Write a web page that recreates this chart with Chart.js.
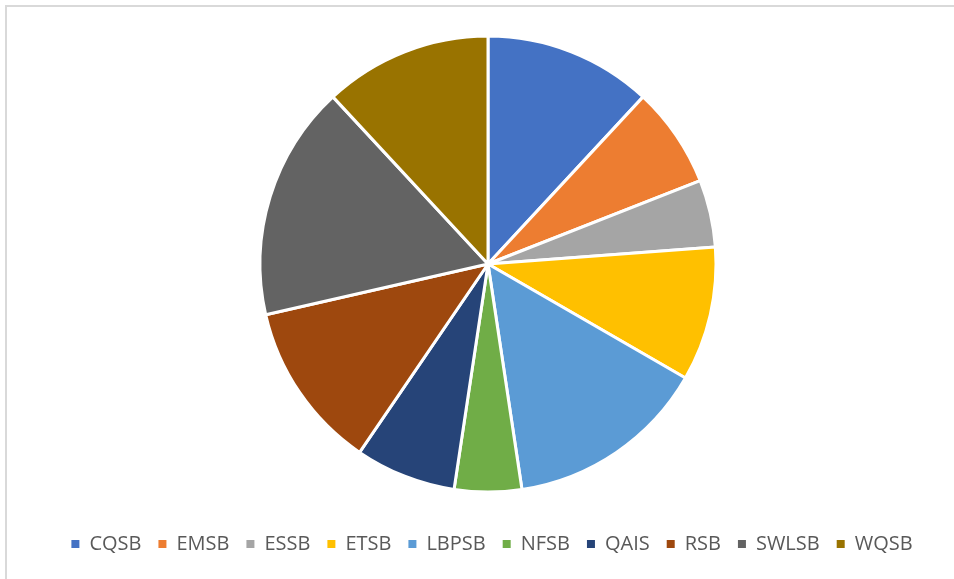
<!DOCTYPE html>
<html>
<head>
<meta charset="utf-8">
<script src="https://cdn.jsdelivr.net/npm/chart.js@4/dist/chart.umd.min.js"></script>
<style>
  html, body { margin: 0; padding: 0; background: #ffffff; overflow: hidden; width: 954px; height: 579px; }
  #frame { position: absolute; left: 5px; top: 5px; width: 966px; height: 600px; border: 2px solid #D9D9D9; box-sizing: border-box; }
  #wrap { position: absolute; left: 7px; top: 7px; width: 962px; height: 572px; }
</style>
</head>
<body>
<div id="frame"></div>
<div id="wrap"><canvas id="c"></canvas></div>
<script>
const categories = ["CQSB", "EMSB", "ESSB", "ETSB", "LBPSB", "NFSB", "QAIS", "RSB", "SWLSB", "WQSB"];
const values = [5, 3, 2, 4, 6, 2, 3, 5, 7, 5];
const colors = ["#4472C4", "#ED7D31", "#A5A5A5", "#FFC000", "#5B9BD5", "#70AD47", "#264478", "#9E480E", "#636363", "#997300"];

const shiftLegend = {
  id: 'shiftLegend',
  afterLayout(chart) {
    if (chart.legend) { chart.legend.left += 4; chart.legend.right += 4; }
  }
};

new Chart(document.getElementById('c'), {
  type: 'pie',
  data: {
    labels: categories,
    datasets: [{
      data: values,
      backgroundColor: colors,
      borderColor: '#ffffff',
      borderWidth: 3,
      radius: 228
    }]
  },
  plugins: [shiftLegend],
  options: {
    responsive: true,
    maintainAspectRatio: false,
    animation: false,
    layout: { padding: { top: 4, bottom: 15, left: 0, right: 0 } },
    plugins: {
      tooltip: { enabled: false },
      legend: {
        position: 'bottom',
        labels: {
          boxWidth: 8,
          boxHeight: 8,
          padding: 17,
          color: '#595959',
          font: { family: 'Open Sans', size: 20 },
          generateLabels(chart) {
            const items = Chart.controllers.pie.overrides.plugins.legend.labels.generateLabels(chart);
            items.forEach(it => { it.lineWidth = 0; it.strokeStyle = it.fillStyle; });
            return items;
          }
        }
      }
    }
  }
});
</script>
</body>
</html>
